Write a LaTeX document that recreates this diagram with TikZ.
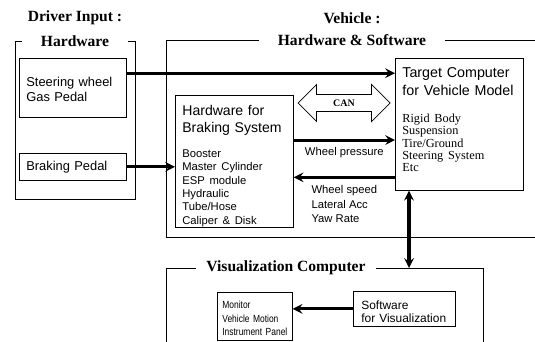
\documentclass[tikz,border=0pt]{standalone}
\usepackage{fontspec}
\setmainfont{Liberation Serif}
\setsansfont{Liberation Sans}
\newfontfamily\narrowsans[FakeStretch=0.82]{Liberation Sans}
\usetikzlibrary{shapes.arrows, arrows, calc}

\begin{document}
\begin{tikzpicture}[
    x=0.03cm, y=-0.03cm,
    frame/.style={line width=0.6pt},
    grouptitle/.style={font=\bfseries\fontsize{13.3}{15}\selectfont, fill=white, inner ysep=1pt},
    box/.style={draw, line width=0.6pt, anchor=north west, align=left, inner ysep=0pt, inner xsep=7*0.03cm},
    arrow/.style={line width=2.6pt, ->, >=stealth},
    signal/.style={font=\sffamily\fontsize{9.6}{12.3}\selectfont, align=left, inner sep=0pt}
]
\useasboundingbox (0,0) rectangle (535,342);

% Group frames
\draw[frame] (15,41) rectangle (135,199);
\draw[frame] (535,40) -- (166,40) -- (166,237) -- (535,237);
\draw[frame] (166,342) -- (166,268) -- (483,268) -- (483,342);

% Group titles
\node[grouptitle, fill=none] (drvhead) at (75,18) {Driver Input :};
\node[grouptitle, inner xsep=19*0.03cm] (drvtitle) at (75,41) {Hardware};
\node[grouptitle, fill=none] (vehhead) at (352,18) {Vehicle :};
\node[grouptitle, inner xsep=19*0.03cm] (vehtitle) at (352,40) {Hardware \& Software};
\node[grouptitle, inner xsep=10*0.03cm] (vistitle) at (286,268) {Visualization Computer};

% Driver input
\node[box, text width=93*0.03cm, text height=28*0.03cm, text depth=31*0.03cm,
      font=\sffamily\fontsize{11}{12.75}\selectfont] (steer) at (19,58) {Steering wheel\\Gas Pedal};
\node[box, text width=93*0.03cm, text height=17*0.03cm, text depth=10*0.03cm,
      font=\sffamily\fontsize{11}{12.75}\selectfont] (pedal) at (19,153) {Braking Pedal};

% Vehicle
\node[box, text width=104*0.03cm, text height=20*0.03cm, text depth=112*0.03cm,
      font=\sffamily\fontsize{12}{14.5}\selectfont] (brake) at (175,95)
  {Hardware for\\Braking System\par\vspace{9.6pt}
   \fontsize{9.6}{11.5}\selectfont Booster\\Master Cylinder\\ESP module\\Hydraulic\\Tube/Hose\\Caliper \& Disk\par};
\node[box, text width=114*0.03cm, text height=19*0.03cm, text depth=113*0.03cm,
      font=\sffamily\fontsize{12.2}{15.3}\selectfont] (target) at (395,58)
  {Target Computer\\for Vehicle Model\par\vspace{12.4pt}
   \rmfamily\fontsize{10.5}{10.6}\selectfont\lineskiplimit=-5pt Rigid Body\\Suspension\\Tire/Ground\\Steering System\\Etc\par};
\node[draw, double arrow, fill=white, line width=0.6pt, minimum height=92*0.03cm, minimum width=37*0.03cm,
      double arrow head extend=10*0.03cm, inner ysep=4pt,
      font=\bfseries\fontsize{8.5}{10}\selectfont] (can) at (344,103) {CAN};

% Visualization
\node[box, inner xsep=5*0.03cm, text width=65*0.03cm, text height=16.5*0.03cm, text depth=31.5*0.03cm,
      font=\narrowsans\fontsize{8.8}{11.5}\selectfont] (monitor) at (217,292) {Monitor\\Vehicle Motion\\Instrument Panel\par};
\node[box, inner xsep=8*0.03cm, text width=86*0.03cm, text height=18*0.03cm, text depth=17*0.03cm,
      font=\sffamily\fontsize{10.2}{11.5}\selectfont] (soft) at (353,291) {Software\\for Visualization\par};

% Connectors
\coordinate (sw) at ($(steer.north east)!0.254!(steer.south east)$);
\coordinate (wp) at ($(brake.north east)!0.34!(brake.south east)$);
\coordinate (ws) at ($(brake.north east)!0.62!(brake.south east)$);
\coordinate (vistop) at (409,268);

\draw[arrow] (sw) -- (sw -| target.west);
\draw[arrow] (pedal.east) -- (pedal.east -| brake.west);
\draw[arrow] (wp) -- node[signal, below=5pt] {Wheel pressure} (wp -| target.west);
\draw[arrow] (ws -| target.west) -- node[signal, below=6pt] {Wheel speed\\Lateral Acc\\Yaw Rate} (ws);
\draw[arrow, <->] (vistop |- target.south) -- (vistop);
\draw[arrow] (soft.west) -- (soft.west -| monitor.east);

\end{tikzpicture}
\end{document}
